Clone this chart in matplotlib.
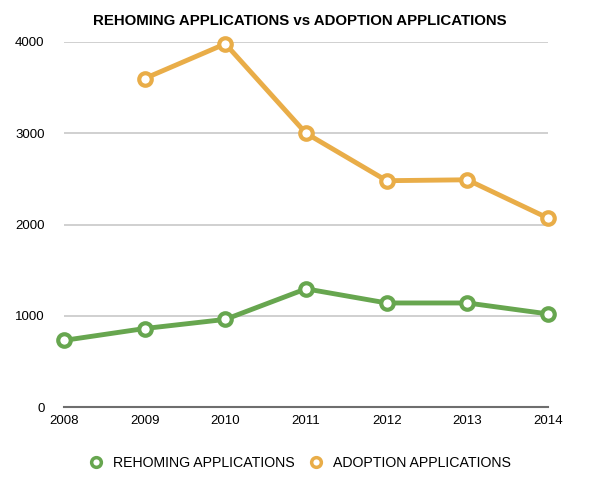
import matplotlib.pyplot as plt
from matplotlib.lines import Line2D

plt.rcParams['font.family'] = ['Liberation Sans', 'DejaVu Sans']

years = [2008, 2009, 2010, 2011, 2012, 2013, 2014]
rehoming = [730, 860, 960, 1295, 1140, 1140, 1020]
adoption_years = [2009, 2010, 2011, 2012, 2013, 2014]
adoption = [3600, 3980, 3000, 2480, 2490, 2070]

green = '#67a64f'
orange = '#e9ad48'

fig = plt.figure(figsize=(6, 4.87), dpi=100)
ax = fig.add_axes([64 / 600, 1 - 407 / 487, (548 - 64) / 600, (407 - 42) / 487])

ax.plot(years, rehoming, color=green, lw=3.5, marker='o', ms=9,
        mfc='white', mec=green, mew=3, clip_on=False, zorder=3)
ax.plot(adoption_years, adoption, color=orange, lw=3.5, marker='o', ms=9,
        mfc='white', mec=orange, mew=3, clip_on=False, zorder=3)

ax.set_xlim(2008, 2014)
ax.set_ylim(0, 4000)
ax.set_xticks(years)
ax.set_yticks([0, 1000, 2000, 3000, 4000])
ax.yaxis.grid(True, color='#c8c8c8', lw=1.2)
ax.set_axisbelow(True)
for s in ['top', 'right', 'left']:
    ax.spines[s].set_visible(False)
ax.spines['bottom'].set_color('#6e6e6e')
ax.spines['bottom'].set_linewidth(1.5)
ax.tick_params(length=0, labelsize=9.5)
ax.tick_params(axis='y', pad=14)
ax.tick_params(axis='x', pad=6)

fig.text(0.5, 1 - 21 / 487, 'REHOMING APPLICATIONS vs ADOPTION APPLICATIONS',
         ha='center', va='center', fontsize=10.8, fontweight='bold')

handles = [
    Line2D([], [], ls='none', marker='o', ms=7, mfc='white', mec=green, mew=2.5),
    Line2D([], [], ls='none', marker='o', ms=7, mfc='white', mec=orange, mew=2.5),
]
fig.legend(handles, ['REHOMING APPLICATIONS', 'ADOPTION APPLICATIONS'],
           loc='center', bbox_to_anchor=(0.5, 1 - 463 / 487), ncol=2, frameon=False,
           fontsize=10.2, handlelength=1.0, handletextpad=0.7, columnspacing=1.0)

fig.savefig('out.png')
